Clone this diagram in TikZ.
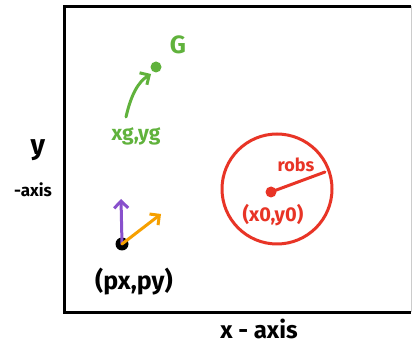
\documentclass[tikz,border=0pt]{standalone}
\usepackage{fontspec}
\setmainfont{Fira Sans}
\usetikzlibrary{arrows.meta}
\definecolor{cgreen}{RGB}{96,178,60}
\definecolor{cred}{RGB}{232,52,38}
\definecolor{cpurple}{RGB}{136,80,204}
\definecolor{corange}{RGB}{246,160,0}
\tikzset{
  hand/.style={line width=3pt, line cap=round, line join=round},
  harrow/.style={hand, -{Straight Barb[length=7pt,width=14pt,line width=3pt]}},
  lbl/.style={inner sep=0pt, anchor=center},
}
\begin{document}
\begin{tikzpicture}[x=1pt,y=-1pt]
\useasboundingbox (0,0) rectangle (412,355);
\fill[white] (0,0) rectangle (412,355);
% frame
\draw[line width=3pt] (411,6.5) -- (64.5,6.5) -- (64.5,312) -- (411,312);
\draw[line width=1pt, gray!40] (411,6.5) -- (411,312);
% axis labels
\node[lbl, font=\bfseries\fontsize{28}{28}\selectfont] (ylab) at (38,150) {y};
\node[lbl, font=\bfseries\fontsize{17}{17}\selectfont] (yaxis) at (33,190) {-axis};
\node[lbl, font=\bfseries\fontsize{24}{24}\selectfont] (xaxis) at (259,329) {x - axis};
% goal
\fill[cgreen] (156,67) circle (5.5) coordinate (G);
\node[lbl, text=cgreen, font=\bfseries\fontsize{25}{25}\selectfont] (Glab) at (178,45) {G};
\coordinate (gstart) at (126,117);
\draw[harrow, cgreen] (gstart) .. controls (131,95) and (138,82) .. (151,74);
\node[lbl, text=cgreen, font=\bfseries\fontsize{21}{21}\selectfont] (xgyg) at (136,136) {xg,yg};
% robot
\fill[black] (122,244) circle (6.5) coordinate (P);
\coordinate (pup) at (121,199);
\coordinate (pdir) at (161,214);
\draw[harrow, cpurple] (P) -- (pup);
\draw[harrow, corange] (P) -- (pdir);
\node[lbl, font=\bfseries\fontsize{25}{25}\selectfont] (plab) at (134,282) {(px,py)};
% obstacle
\draw[hand, cred] (277,189) circle (55);
\fill[cred] (271,192) circle (5.5) coordinate (O);
\coordinate (Oedge) at (325,172);
\draw[hand, cred] (O) -- (Oedge);
\node[lbl, text=cred, font=\bfseries\fontsize{18}{18}\selectfont] (robs) at (296,165) {robs};
\node[lbl, text=cred, font=\bfseries\fontsize{20}{20}\selectfont] (xoyo) at (273,215) {(x0,y0)};
\end{tikzpicture}
\end{document}
